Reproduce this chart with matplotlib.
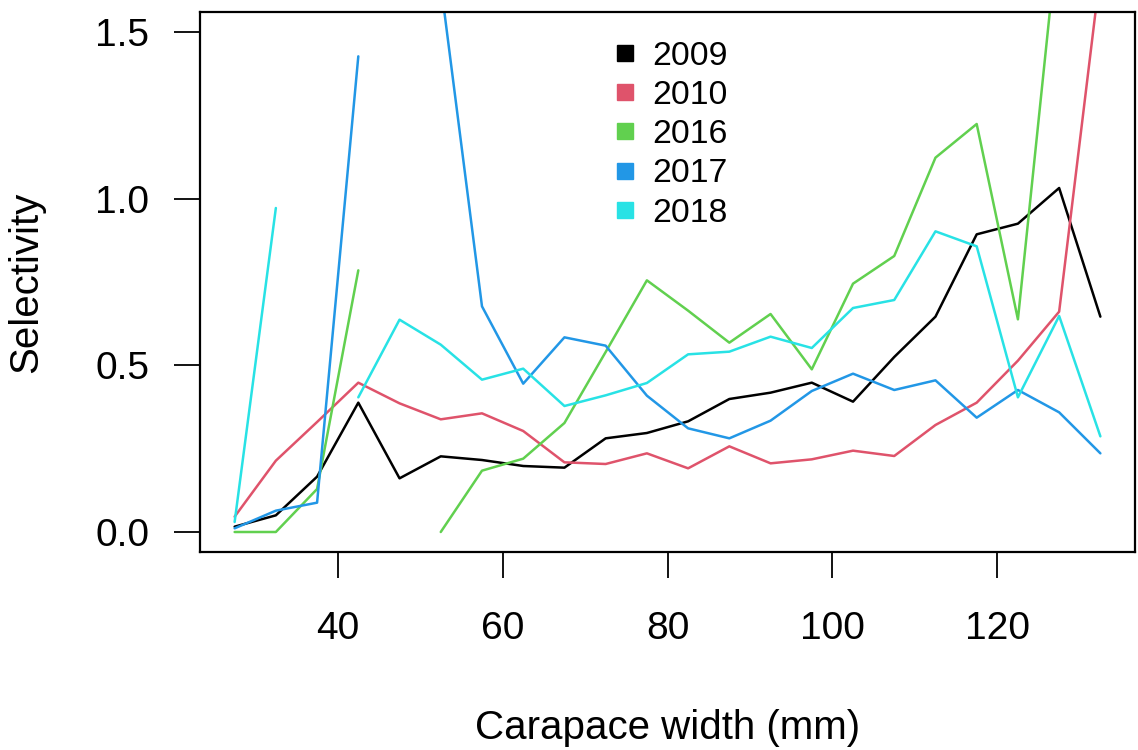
import numpy as np
import matplotlib
matplotlib.use("Agg")
import matplotlib.pyplot as plt
from matplotlib.lines import Line2D

nan = np.nan

# Carapace width bin midpoints (mm)
widths = [27.5, 32.5, 37.5, 42.5, 47.5, 52.5, 57.5, 62.5, 67.5, 72.5, 77.5,
          82.5, 87.5, 92.5, 97.5, 102.5, 107.5, 112.5, 117.5, 122.5, 127.5, 132.5]

sel_2009 = [0.016, 0.05, 0.166, 0.388, 0.161, 0.227, 0.216, 0.198, 0.193, 0.281, 0.297,
            0.332, 0.399, 0.418, 0.448, 0.391, 0.525, 0.646, 0.893, 0.925, 1.032, 0.646]
sel_2010 = [0.046, 0.214, 0.33, 0.448, 0.386, 0.338, 0.356, 0.303, 0.209, 0.204, 0.236,
            0.191, 0.257, 0.206, 0.218, 0.244, 0.228, 0.321, 0.388, 0.514, 0.661, 1.68]
sel_2016 = [0.0, 0.0, 0.129, 0.785, nan, 0.0, 0.184, 0.22, 0.327, 0.54, 0.755,
            0.664, 0.568, 0.654, 0.488, 0.745, 0.828, 1.123, 1.224, 0.638, 1.83, nan]
sel_2017 = [0.011, 0.064, 0.088, 1.427, nan, 1.645, 0.677, 0.445, 0.584, 0.559, 0.409,
            0.311, 0.281, 0.334, 0.423, 0.475, 0.426, 0.455, 0.343, 0.426, 0.359, 0.236]
sel_2018 = [0.03, 0.972, nan, 0.404, 0.637, 0.562, 0.457, 0.49, 0.378, 0.41, 0.447,
            0.533, 0.541, 0.586, 0.552, 0.672, 0.696, 0.902, 0.857, 0.404, 0.648, 0.287]

years = ["2009", "2010", "2016", "2017", "2018"]
series = [sel_2009, sel_2010, sel_2016, sel_2017, sel_2018]
colors = ["#000000", "#DF536B", "#61D04F", "#2297E6", "#28E2E5"]

xticks = [40, 60, 80, 100, 120]
yticks = [0.0, 0.5, 1.0, 1.5]
ytick_labels = ["0.0", "0.5", "1.0", "1.5"]

plt.rcParams['font.family'] = ['Liberation Sans', 'DejaVu Sans']

fig = plt.figure(figsize=(11.38, 7.5), dpi=100)
ax = fig.add_axes([200/1138, 1-552/750, 935/1138, 540/750])

for vals, col in zip(series, colors):
    ax.plot(widths, vals, color=col, lw=1.8, solid_joinstyle='round', solid_capstyle='round')

xmin, xmax = min(widths), max(widths)
xr = xmax - xmin
ax.set_xlim(xmin - 0.04*xr, xmax + 0.04*xr)
ax.set_ylim(0 - 0.04*1.5, 1.5 + 0.04*1.5)

ax.set_xticks(xticks)
ax.set_xticklabels([str(t) for t in xticks])
ax.set_yticks(yticks)
ax.set_yticklabels(ytick_labels)

ax.tick_params(axis='x', direction='out', length=18.7, width=1.3, pad=24, labelsize=28)
ax.tick_params(axis='y', direction='out', length=18.7, width=1.3, pad=18, labelsize=28)
for s in ax.spines.values():
    s.set_linewidth(1.6)
    s.set_color('black')

ax.set_xlabel("Carapace width (mm)", fontsize=29)
ax.set_ylabel("Selectivity", fontsize=29)
ax.xaxis.set_label_coords(0.5, -0.29)
ax.yaxis.set_label_coords(-0.166, 0.5)

handles = [Line2D([], [], marker='s', linestyle='none', markersize=11.5,
                  markerfacecolor=c, markeredgecolor=c) for c in colors]
ax.legend(handles, years, loc='upper center', bbox_to_anchor=(0.501, 0.947),
          frameon=False, fontsize=24.3, handlelength=0.97, handletextpad=0.33,
          labelspacing=0.245, borderpad=0, borderaxespad=0)

fig.savefig("out.png", dpi=100)
